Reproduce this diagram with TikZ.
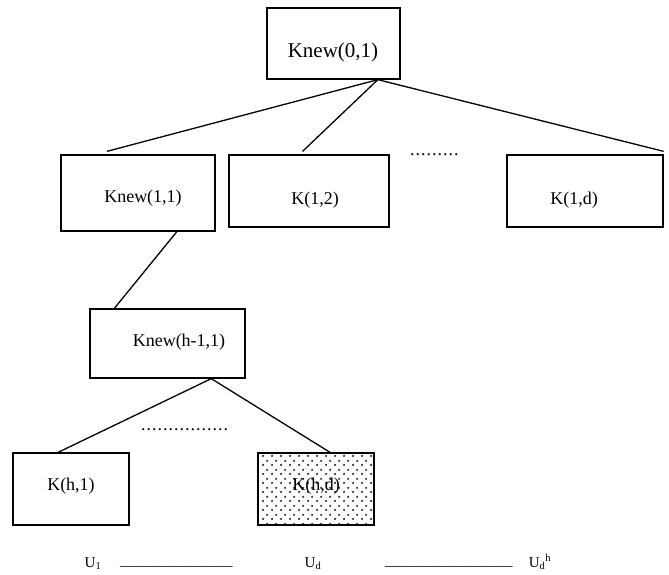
\documentclass[tikz,border=0pt]{standalone}
\usepackage{fontspec}
\setmainfont{Liberation Serif}
\usetikzlibrary{calc,patterns.meta}
\tikzdeclarepattern{
  name=sparsedots,
  type=uncolored,
  bottom left={(0pt,0pt)},
  top right={(9pt,9pt)},
  tile size={(9pt,9pt)},
  code={
    \fill (2.25pt,2.25pt) circle (1.3pt);
    \fill (6.75pt,6.75pt) circle (1.3pt);
  }
}
\tikzset{
  box/.style={draw=black, line width=1.3pt, inner sep=0pt, fill=white},
  lbl/.style={inner sep=0pt, font=\fontsize{18}{20}\selectfont},
  toplbl/.style={inner sep=0pt, font=\fontsize{21}{23}\selectfont},
  ulbl/.style={inner sep=0pt, font=\fontsize{15}{17}\selectfont, anchor=base},
  edge/.style={line width=1.3pt},
  dotsrow/.style={inner sep=0pt, font=\fontsize{18}{20}\selectfont}
}
\newcommand{\dotrow}[1]{\foreach \i in {1,...,#1}{.\hspace{1pt}}}
\begin{document}
\begin{tikzpicture}[x=1pt,y=-1pt]
\useasboundingbox (0,0) rectangle (669,574);
% boxes
\node[box, minimum width=133pt, minimum height=71pt] (k01) at (333.5,43.5) {};
\node[box, minimum width=154pt, minimum height=76pt] (k11) at (138,193) {};
\node[box, minimum width=160pt, minimum height=72pt] (k12) at (309,191) {};
\node[box, minimum width=156pt, minimum height=72pt] (k1d) at (585,191) {};
\node[box, minimum width=155pt, minimum height=69pt] (kh1) at (167.5,343.5) {};
\node[box, minimum width=116pt, minimum height=72pt] (kha) at (71,489) {};
\node[box, minimum width=116pt, minimum height=72pt, pattern={sparsedots}, pattern color=black!85] (khd) at (316,489) {};
% labels
\node[toplbl] (t01) at (333,52) {Knew(0,1)};
\node[lbl] (t11) at (143,198) {Knew(1,1)};
\node[lbl] (t12) at (315,200) {K(1,2)};
\node[lbl] (t1d) at (574,200) {K(1,d)};
\node[lbl] (th1) at (179,342) {Knew(h-1,1)};
\node[lbl] (tha) at (71,486) {K(h,1)};
\node[lbl] (thd) at (316,486) {K(h,d)};
% connectors
\coordinate (s0) at ($(k01.south west)!0.83!(k01.south east)$);
\draw[edge] (s0) -- ($(k11.north west)!0.3!(k11.north east)+(0,-3)$);
\draw[edge] (s0) -- ($(k12.north west)!0.46!(k12.north east)+(0,-3)$);
\draw[edge] (s0) -- ($(k1d.north east)+(0,-3)$);
\draw[edge] ($(k11.south west)!0.75!(k11.south east)$) -- ($(kh1.north west)!0.16!(kh1.north east)$);
\coordinate (s1) at ($(kh1.south west)!0.78!(kh1.south east)$);
\draw[edge] (s1) -- ($(kha.north west)!0.39!(kha.north east)$);
\draw[edge] (s1) -- ($(khd.north west)!0.62!(khd.north east)$);
% dots
\node[dotsrow, anchor=west] (d1) at (410,155) {\dotrow{9}};
\node[dotsrow, anchor=west] (d2) at (141,430) {\dotrow{16}};
% bottom row
\node[ulbl] (u1) at (93,567) {U\textsubscript{1}};
\node[ulbl, anchor=base west] (l1) at (120,565) {\_\_\_\_\_\_\_\_\_\_\_\_\_\_\_};
\node[ulbl] (ud) at (313,567) {U\textsubscript{d}};
\node[ulbl, anchor=base west] (l2) at (385,565) {\_\_\_\_\_\_\_\_\_\_\_\_\_\_\_\_\_};
\node[ulbl] (udh) at (540,567) {U\textsubscript{d}\textsuperscript{h}};
\end{tikzpicture}
\end{document}
